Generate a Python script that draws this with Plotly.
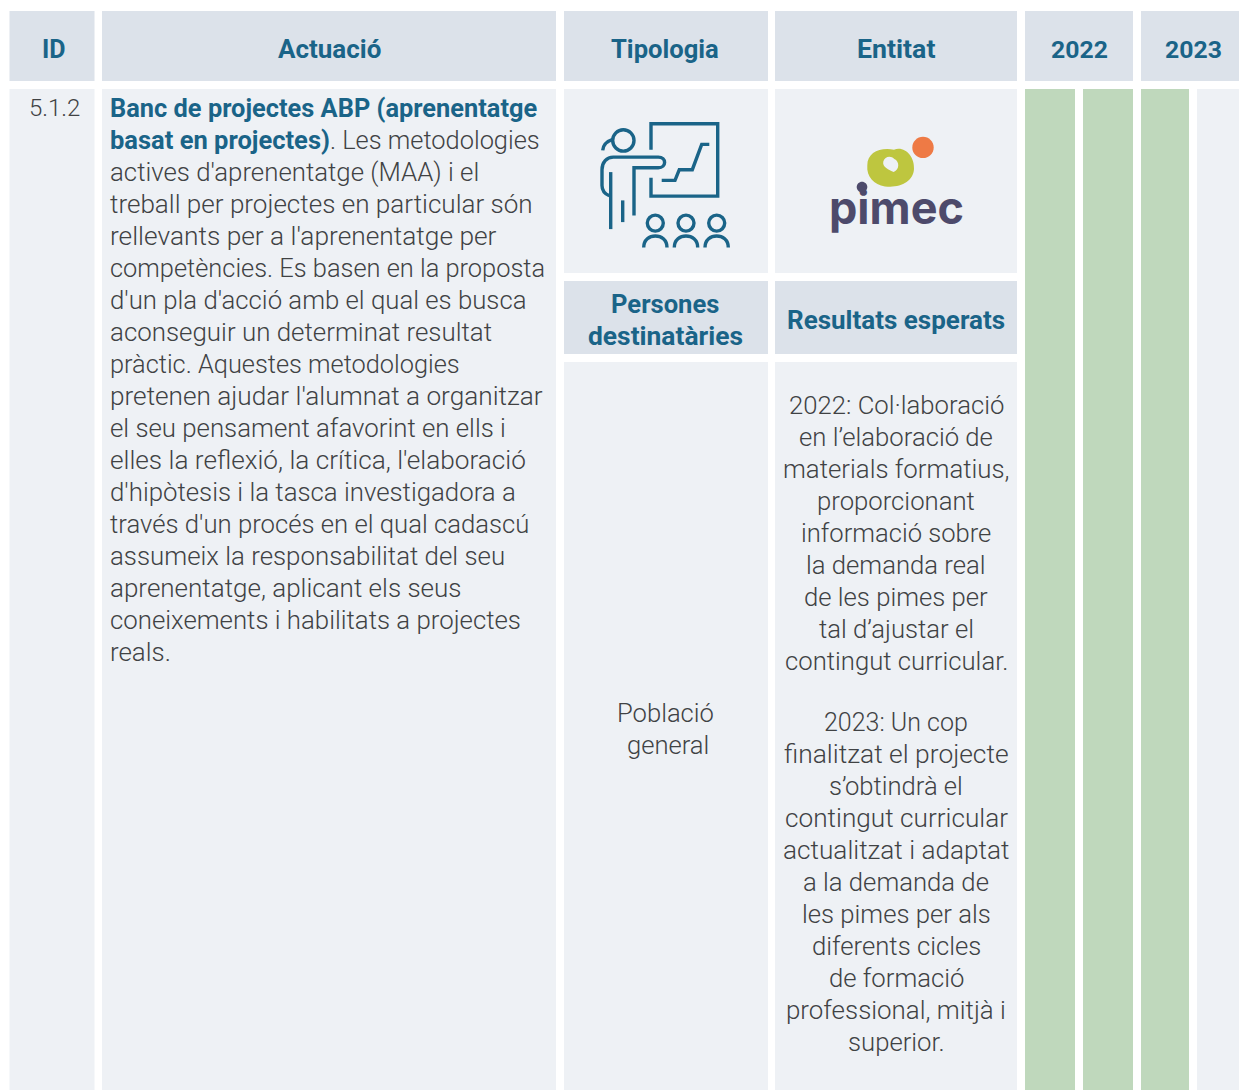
import plotly.graph_objects as go

# ---------- content ----------
headers = ["ID", "Actuació", "Tipologia", "Entitat", "2022", "2023"]
row_id = "5.1.2"
actuacio_lines = [
    "<span style='font-size:25.4px'><b style='color:#1a6488'>Banc de projectes ABP (aprenentatge</b></span>",
    "<span style='font-size:25.5px'><b style='color:#1a6488'>basat en projectes)</b></span>. Les metodologies",
    "actives d'aprenentatge (MAA) i el",
    "treball per projectes en particular són",
    "rellevants per a l'aprenentatge per",
    "competències. Es basen en la proposta",
    "d'un pla d'acció amb el qual es busca",
    "aconseguir un determinat resultat",
    "pràctic. Aquestes metodologies",
    "pretenen ajudar l'alumnat a organitzar",
    "el seu pensament afavorint en ells i",
    "elles la reflexió, la crítica, l'elaboració",
    "d'hipòtesis i la tasca investigadora a",
    "través d'un procés en el qual cadascú",
    "assumeix la responsabilitat del seu",
    "aprenentatge, aplicant els seus",
    "coneixements i habilitats a projectes",
    "reals.",
]
sub_headers = ["Persones", "destinatàries", "Resultats esperats"]
destinataries = ["Població", "general"]
resultats_2022 = ["2022: Col·laboració", "en l’elaboració de", "materials formatius,",
                  "proporcionant", "informació sobre", "la demanda real",
                  "de les pimes per", "tal d’ajustar el", "contingut curricular."]
resultats_2023 = ["2023: Un cop", "finalitzat el projecte", "s’obtindrà el",
                  "contingut curricular", "actualitzat i adaptat", "a la demanda de",
                  "les pimes per als", "diferents cicles", "de formació",
                  "professional, mitjà i", "superior."]
semesters = ["2022 S1", "2022 S2", "2023 S1", "2023 S2"]
semester_active = [1, 1, 1, 0]
logo_word = "pimec"

# ---------- layout geometry ----------
W, H = 1239, 1090
HEAD = "#dce2ea"; CELL = "#eef1f5"; GREEN = "#bfd8bc"; BLUE = "#1a6488"; TXT = "#404244"
PURPLE = "#4d4a6b"; LIME = "#bec63f"; ORANGE = "#ee7a45"
FONT = "Roboto"
col_x = [(9.5, 94.5), (102, 556), (564, 768), (775, 1017), (1025, 1133), (1141, 1239)]
sem_x = [(1025, 1075), (1083, 1133), (1141, 1189), (1197, 1239)]
# per-line type sizes that compensate for the substitute font's metrics
actuacio_size = [25.8, 25.4, 25.8, 26.05, 26.3, 25.4, 25.75, 25.9, 25.35, 26.2,
                 25.8, 26.2, 25.8, 25.7, 25.85, 26.0, 25.8, 25.9]
res22_size = [25.7, 25.7, 25.8, 25.7, 25.6, 25.7, 25.7, 25.7, 25.7]
res23_size = [25.0, 26.4, 25.6, 26.2, 26.2, 25.7, 25.7, 25.7, 25.7, 25.9, 25.7]

shapes = []
def rect(x0, y0, x1, y1, c):
    shapes.append(dict(type="rect", x0=x0, y0=y0, x1=x1, y1=y1, fillcolor=c,
                       line=dict(width=0), layer="below"))
def path(d, color=BLUE, width=3.4, fill=None):
    shapes.append(dict(type="path", path=d, layer="above",
                       line=dict(color=color, width=width if width else 0),
                       fillcolor=fill if fill else "rgba(0,0,0,0)"))
for x0, x1 in col_x:
    rect(x0, 11, x1, 81, HEAD)
rect(col_x[0][0], 89, col_x[0][1], H, CELL)
rect(col_x[1][0], 89, col_x[1][1], H, CELL)
for c in col_x[2:4]:
    rect(c[0], 89, c[1], 273, CELL)
    rect(c[0], 281, c[1], 354, HEAD)
    rect(c[0], 362, c[1], H, CELL)

# reference-zoom helper for icon/logo drawing
def P(x, y):
    return f"{570 + x / 3:.1f},{90.4 + y / 3:.1f}"
def pl(*pts):
    return "M" + " L".join(P(*p) for p in pts)
def circ(cx, cy, r):
    return (f"M{P(cx - r, cy)} C{P(cx - r, cy - .55 * r)} {P(cx - .55 * r, cy - r)} {P(cx, cy - r)} "
            f"C{P(cx + .55 * r, cy - r)} {P(cx + r, cy - .55 * r)} {P(cx + r, cy)} "
            f"C{P(cx + r, cy + .55 * r)} {P(cx + .55 * r, cy + r)} {P(cx, cy + r)} "
            f"C{P(cx - .55 * r, cy + r)} {P(cx - r, cy + .55 * r)} {P(cx - r, cy)} Z")

# presenter icon
path(pl((243, 178), (243, 100), (443, 100), (443, 317), (243, 317), (243, 262)))
path(pl((275, 270), (315, 270), (328, 238), (367, 238), (395, 162), (418, 162)))
path(circ(160, 150, 32))
path(f"M{P(98,180)} C{P(100,160)} {P(112,152)} {P(130,146)}")
path(f"M{P(118,316)} C{P(104,310)} {P(96,300)} {P(96,285)} L{P(96,238)} C{P(96,215)} {P(110,200)} {P(130,200)} "
     f"L{P(265,200)} C{P(290,200)} {P(290,232)} {P(265,232)} L{P(192,232)} L{P(192,375)}")
path(pl((122, 245), (122, 416)))
path(pl((158, 330), (158, 395)))
for cx in (256, 348, 440):
    path(circ(cx, 398, 24))
    path(f"M{P(cx-35,471)} C{P(cx-35,425)} {P(cx+35,425)} {P(cx+35,471)}")

# pimec logo
path(f"M{P(892,225)} C{P(892,186)} {P(930,170)} {P(972,178)} C{P(1004,166)} {P(1034,198)} {P(1032,236)} "
     f"C{P(1030,274)} {P(990,294)} {P(945,288)} C{P(912,283)} {P(889,258)} {P(892,225)} Z", LIME, 0, LIME)
path(f"M{P(940,213)} C{P(944,198)} {P(963,194)} {P(973,206)} C{P(989,213)} {P(989,238)} {P(971,245)} "
     f"C{P(957,238)} {P(936,230)} {P(940,213)} Z", CELL, 0, CELL)
path(circ(1059, 171, 32), ORANGE, 0, ORANGE)

# ---------- traces ----------
fig = go.Figure()
for lab, (x0, x1), on in zip(semesters, sem_x, semester_active):
    fig.add_trace(go.Bar(x=[(x0 + x1) / 2], y=[H - 89], base=[89], width=[x1 - x0],
                         name=lab, marker=dict(color=GREEN if on else CELL, line=dict(width=0)),
                         hoverinfo="name", showlegend=False))

# ---------- text ----------
ann = []
def t(x, y, s, size=25.8, color=TXT, anchor="center", weight=300, family=FONT):
    ann.append(dict(x=x, y=y, text=s, showarrow=False, xref="x", yref="y", xanchor=anchor,
                    yanchor="middle", align="center",
                    font=dict(family=family, size=size, color=color, weight=weight)))
head_cx = [54, 329, 665, 896, 1079, 1193]
head_size = [25, 26, 25.6, 26.7, 24.8, 24.8]
for cx, h, sz in zip(head_cx, headers, head_size):
    t(cx, 49, h, sz, BLUE, weight=700)
t(54, 107.5, row_id, 24)
for i, (line, sz) in enumerate(zip(actuacio_lines, actuacio_size)):
    t(108, 108 + 32 * i, line, sz, anchor="left")
t(665, 303.5, sub_headers[0], 25.6, BLUE, weight=700)
t(665, 335.5, sub_headers[1], 26.4, BLUE, weight=700)
t(896, 319.5, sub_headers[2], 26, BLUE, weight=700)
for i, (line, cx) in enumerate(zip(destinataries, (665, 668))):
    t(cx, 713 + 32 * i, line, 25.6)
for i, (line, sz) in enumerate(zip(resultats_2022, res22_size)):
    t(896, 405 + 32 * i, line, sz)
for i, (line, sz) in enumerate(zip(resultats_2023, res23_size)):
    t(896, 722 + 32 * i, line, sz)
t(896, 207, f"<b>{logo_word}</b>", 45, PURPLE, weight=800, family="Inter")
# i-dot of the logo sits above the word
path(circ(876, 290, 16), PURPLE, 0, PURPLE)

fig.update_layout(width=W, height=H, margin=dict(l=0, r=0, t=0, b=0), paper_bgcolor="white",
                  plot_bgcolor="white", shapes=shapes, annotations=ann, showlegend=False,
                  xaxis=dict(range=[0, W], visible=False, fixedrange=True),
                  yaxis=dict(range=[H, 0], visible=False, fixedrange=True))
fig.write_html("out.html", config=dict(displayModeBar=False),
               post_script="document.body.style.margin='0';document.body.style.overflow='hidden';")
